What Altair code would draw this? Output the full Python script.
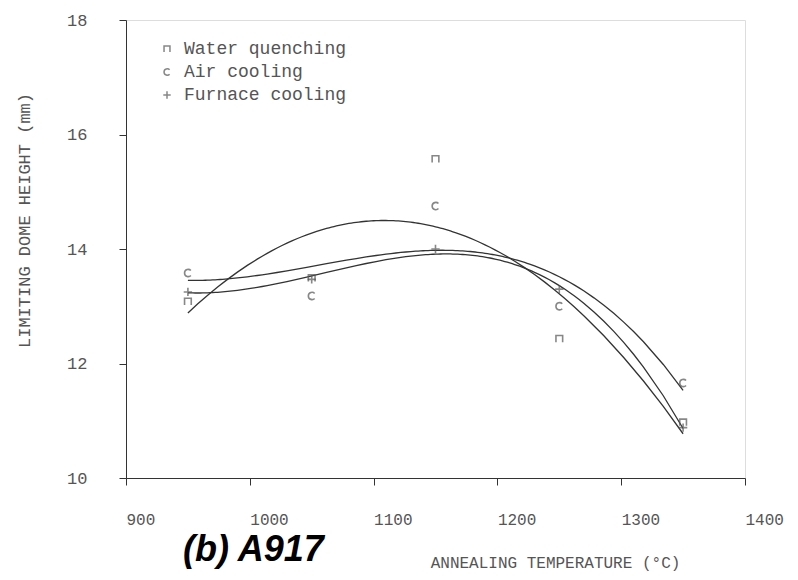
import altair as alt
import pandas as pd

# Data
temps = [950, 1050, 1150, 1250, 1350]
water_quenching = [13.08, 13.49, 15.57, 12.43, 10.97]
air_cooling = [13.58, 13.18, 14.75, 13.00, 11.66]
furnace_cooling = [13.25, 13.47, 14.00, 13.30, 10.88]
series_names = ["Water quenching", "Air cooling", "Furnace cooling"]
x_ticks = [900, 1000, 1100, 1200, 1300, 1400]
y_ticks = [10, 12, 14, 16, 18]

rows = []
for name, vals in zip(series_names, [water_quenching, air_cooling, furnace_cooling]):
    for t, v in zip(temps, vals):
        rows.append({"T": t, "H": v, "Treatment": name})
df = pd.DataFrame(rows)

MONO = "Liberation Mono"
GRAY = "#555555"
DARK = "#333333"

shape_paths = [
    "M-0.8,0.8L-0.8,-0.8L0.8,-0.8L0.8,0.8",
    "M0.7,-0.6C0.3,-1.05 -0.8,-0.95 -0.8,0C-0.8,0.95 0.3,1.05 0.7,0.6",
    "M-1,0L1,0M0,-1L0,1",
]

x_enc = alt.X(
    "T:Q",
    scale=alt.Scale(domain=[900, 1400], nice=False, zero=False),
    axis=alt.Axis(
        values=x_ticks, format="d", labelAlign="left", labelPadding=26,
        title="ANNEALING TEMPERATURE (°C)", titleX=429, titleY=84,
        titleAlign="center", titleBaseline="middle",
        titleFont=MONO, titleFontSize=16, titleFontWeight="normal", titleColor=GRAY,
        labelFont=MONO, labelFontSize=16, labelColor=GRAY,
        tickSize=7, tickColor=DARK, domainColor=DARK, grid=False, labelFlush=False,
    ),
)
y_enc = alt.Y(
    "H:Q",
    scale=alt.Scale(domain=[10, 18], nice=False, zero=False),
    axis=alt.Axis(
        values=y_ticks, format="d", labelPadding=32,
        title="LIMITING DOME HEIGHT (mm)", titleX=-102, titleY=200,
        titleAngle=-90, titleAlign="center", titleBaseline="middle",
        titleFont=MONO, titleFontSize=17, titleFontWeight="normal", titleColor=GRAY,
        labelFont=MONO, labelFontSize=17, labelColor=GRAY,
        tickSize=7, tickColor=DARK, domainColor=DARK, grid=False,
    ),
)

points = alt.Chart(df).mark_point(filled=False, size=70, strokeWidth=1.6, color=GRAY).encode(
    x=x_enc,
    y=y_enc,
    shape=alt.Shape(
        "Treatment:N",
        scale=alt.Scale(domain=series_names, range=shape_paths),
        sort=series_names,
        legend=alt.Legend(
            title=None, orient="none", legendX=32, legendY=20,
            labelFont=MONO, labelFontSize=18, labelColor=GRAY, labelLimit=400,
            symbolStrokeColor=GRAY, symbolFillColor="transparent", symbolSize=55,
            symbolStrokeWidth=1.5, rowPadding=5, labelOffset=8,
        ),
    ),
)

curves = alt.Chart(df).transform_regression(
    "T", "H", groupby=["Treatment"], method="poly", order=3
).mark_line(color=DARK, strokeWidth=1.3).encode(
    x=alt.X("T:Q"), y=alt.Y("H:Q"), detail="Treatment:N"
)

chart = alt.layer(curves, points).properties(
    width=619,
    height=458,
    autosize=alt.AutoSizeParams(type="none"),
    padding={"left": 118, "top": 12, "right": 45, "bottom": 94},
    title=alt.TitleParams(
        "(b) A917", orient="bottom", anchor="start", dx=168, offset=-37,
        font="Liberation Sans", fontSize=36, fontStyle="italic",
        fontWeight="bold", color="#000000",
    ),
).configure_view(stroke=DARK, strokeWidth=1.3).configure(background="white")

chart.save("out.html", embed_options={"renderer": "svg", "actions": False})
